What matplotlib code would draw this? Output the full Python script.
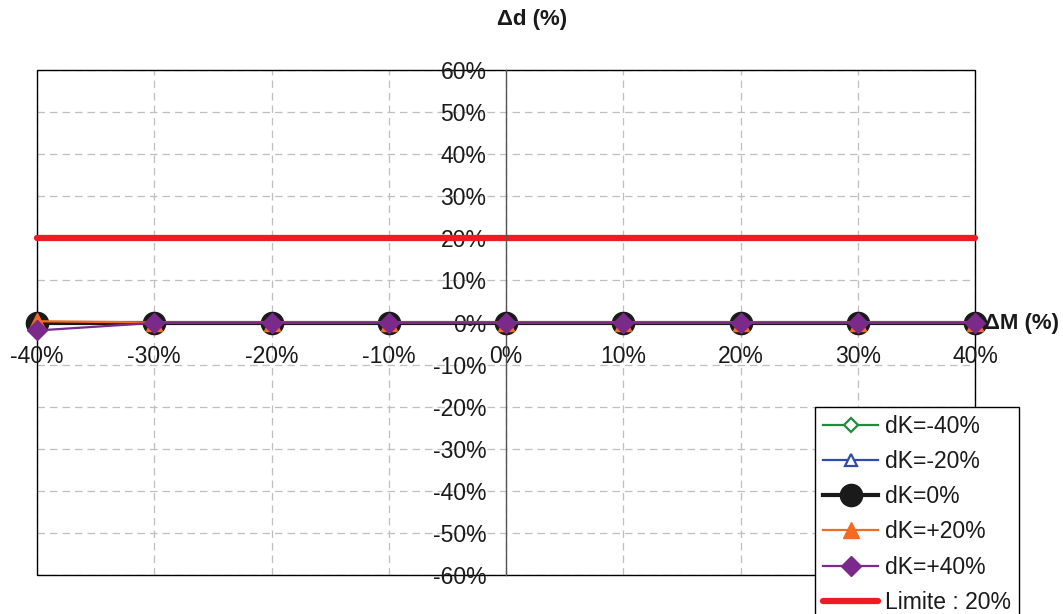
import numpy as np
import matplotlib
matplotlib.use("Agg")
from matplotlib import pyplot as plt
from matplotlib.patches import Rectangle

plt.rcParams['font.family'] = ['Liberation Sans', 'DejaVu Sans']

# data
dM = [-40, -30, -20, -10, 0, 10, 20, 30, 40]
dk_m40 = [0, 0, 0, 0, 0, 0, 0, 0, 0]
dk_m20 = [0, 0, 0, 0, 0, 0, 0, 0, 0]
dk_0 = [0, 0, 0, 0, 0, 0, 0, 0, 0]
dk_p20 = [0.3, 0, 0, 0, 0, 0, 0, 0, 0]
dk_p40 = [-1.9, -0.1, -0.1, -0.1, -0.1, -0.1, -0.1, -0.1, -0.1]
limite = 20

x_ticks = [-40, -30, -20, -10, 0, 10, 20, 30, 40]
y_ticks = [-60, -50, -40, -30, -20, -10, 0, 10, 20, 30, 40, 50, 60]

fig = plt.figure(figsize=(10.63, 6.14), dpi=100)
ax = fig.add_axes([37 / 1063, 1 - 575 / 614, 938 / 1063, 505 / 614])

ax.set_xlim(-40, 40)
ax.set_ylim(-60, 60)

# grille
for xv in x_ticks:
    ax.axvline(xv, color='#BFBFBF', lw=0.9, ls=(0, (6, 4)), zorder=0)
for yv in y_ticks:
    ax.axhline(yv, color='#BFBFBF', lw=0.9, ls=(0, (6, 4)), zorder=0)

# courbes
ax.plot(dM, dk_m40, color='#1E8C3C', lw=1.6, marker='D', ms=7, mfc='white',
        mec='#1E8C3C', mew=1.6, label='dK=-40%', clip_on=False, zorder=3)
ax.plot(dM, dk_m20, color='#2E4DA7', lw=1.6, marker='^', ms=9, mfc='white',
        mec='#2E4DA7', mew=1.6, label='dK=-20%', clip_on=False, zorder=3)
ax.plot(dM, dk_0, color='#1A1A1A', lw=3, marker='o', ms=16,
        label='dK=0%', clip_on=False, zorder=4)
ax.plot(dM, dk_p20, color='#F26B21', lw=1.6, marker='^', ms=11,
        label='dK=+20%', clip_on=False, zorder=5)
ax.plot(dM, dk_p40, color='#7B2A8C', lw=1.6, marker='D', ms=10,
        label='dK=+40%', clip_on=False, zorder=6)
ax.plot([-40, 40], [limite, limite], color='#ED1C24', lw=4.5,
        solid_capstyle='round', label='Limite : 20%', clip_on=False, zorder=2)

# axes au centre
for s in ['top', 'right']:
    ax.spines[s].set_visible(False)
ax.spines['left'].set_position(('data', 0))
ax.spines['bottom'].set_position(('data', 0))
ax.spines['left'].set_color('#555555')
ax.spines['bottom'].set_color('#555555')
ax.spines['left'].set_linewidth(1)
ax.spines['bottom'].set_linewidth(1)
ax.add_patch(Rectangle((0, 0), 1, 1, transform=ax.transAxes, fill=False,
                       edgecolor='black', lw=1, zorder=1, clip_on=False))

ax.set_xticks(x_ticks)
ax.set_yticks(y_ticks)
ax.set_xticklabels([f'{v}%' for v in x_ticks])
ax.set_yticklabels([f'{v}%' for v in y_ticks])
ax.tick_params(axis='both', length=0, labelsize=16.5, colors='#1A1A1A')
ax.tick_params(axis='y', pad=14)
ax.tick_params(axis='x', pad=16)

fig.text(532 / 1063, 1 - 20 / 614, 'Δd (%)', ha='center', va='center',
         fontsize=16, fontweight='bold', color='#1A1A1A')
fig.text(984 / 1063, 1 - 324 / 614, 'ΔM (%)', ha='left', va='center',
         fontsize=16, fontweight='bold', color='#1A1A1A')

leg = fig.legend(loc='upper left', bbox_to_anchor=(815 / 1063, 1 - 407 / 614),
                 bbox_transform=fig.transFigure, fontsize=16.5, frameon=True,
                 fancybox=False, edgecolor='black', framealpha=1,
                 handlelength=2.4, handletextpad=0.3, labelspacing=0.53,
                 borderpad=0.35, borderaxespad=0)
leg.get_frame().set_linewidth(1)
for t in leg.get_texts():
    t.set_color('#1A1A1A')

fig.savefig('out.png', dpi=100)
